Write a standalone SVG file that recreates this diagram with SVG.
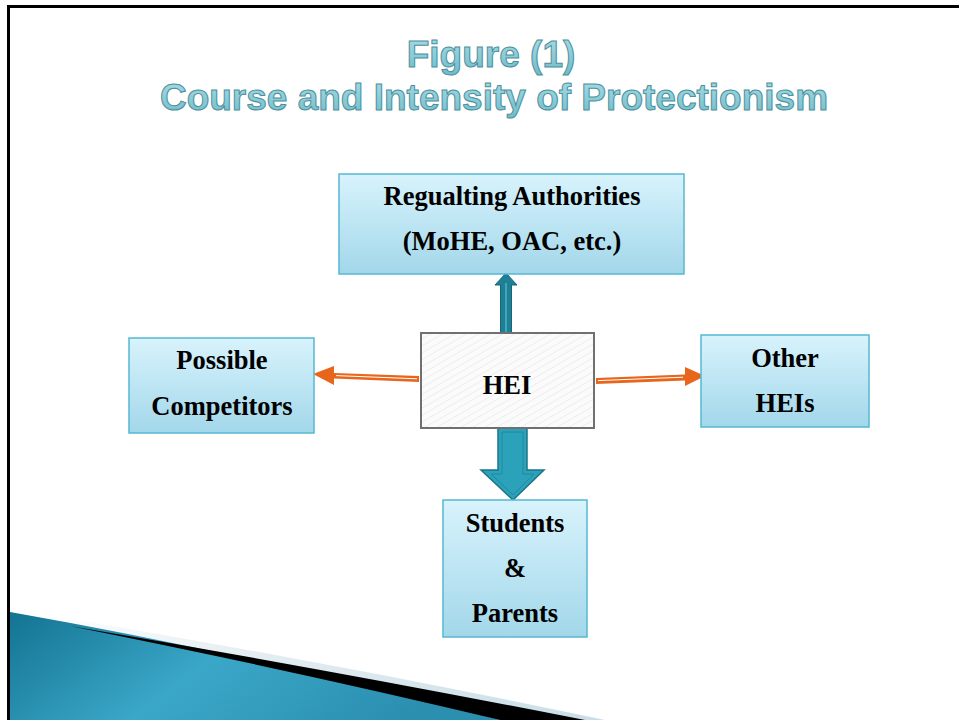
<svg xmlns="http://www.w3.org/2000/svg" width="959" height="723" viewBox="0 0 959 723">
<defs>
<linearGradient id="boxg" x1="0" y1="0" x2="0" y2="1">
<stop offset="0" stop-color="#d8f3fc"/>
<stop offset="1" stop-color="#a2d7ea"/>
</linearGradient>
<linearGradient id="blueg" x1="0" y1="0" x2="1" y2="0.3">
<stop offset="0" stop-color="#137392"/>
<stop offset="0.5" stop-color="#3ba7c8"/>
<stop offset="1" stop-color="#2b8fb0"/>
</linearGradient>
<linearGradient id="lightg" x1="0" y1="0" x2="1" y2="0">
<stop offset="0" stop-color="#ffffff"/>
<stop offset="0.4" stop-color="#e3edf2"/>
<stop offset="1" stop-color="#c9dde6"/>
</linearGradient>
<linearGradient id="titleg" x1="0" y1="0" x2="0" y2="1">
<stop offset="0" stop-color="#a9dde6"/>
<stop offset="1" stop-color="#6fbcc9"/>
</linearGradient>
<pattern id="hatch" width="6" height="6" patternUnits="userSpaceOnUse" patternTransform="rotate(60)">
<rect width="6" height="6" fill="#fbfbfb"/>
<line x1="0" y1="0" x2="0" y2="6" stroke="#eeeeee" stroke-width="2"/>
</pattern>
<style>
.box{fill:url(#boxg);stroke:#56b8d2;stroke-width:1.5}
.lbl{font-family:"Liberation Serif","Times New Roman",serif;font-weight:bold;font-size:26.5px;fill:#000;text-anchor:middle}
.title{font-family:"Liberation Sans",Arial,sans-serif;font-weight:bold;font-size:37px;fill:url(#titleg);stroke:#4d8f9c;stroke-width:1;text-anchor:middle}
.orange{fill:#e8661c}
.teal{fill:#1f7f94;stroke:#16667a;stroke-width:1}
</style>
</defs>
<rect width="959" height="723" fill="#ffffff"/>

<!-- slide frame -->
<g id="frame">
<line x1="7" y1="6.5" x2="959" y2="6.5" stroke="#000" stroke-width="3"/>
<line x1="8.5" y1="5" x2="8.5" y2="720" stroke="#000" stroke-width="3"/>
</g>

<!-- bottom-left swoosh -->
<g id="swoosh">
<path d="M40,614 Q 320,660 605,720 L 470,720 Q 250,662 30,614 Z" fill="url(#lightg)"/>
<path d="M10,612 Q 260,656 500,720 L 10,720 Z" fill="url(#blueg)"/>
<path d="M70,626 Q 320,668 585,720 L 500,720 Q 300,672 70,626 Z" fill="#000"/>
</g>

<!-- title -->
<g id="title">
<text class="title" x="491" y="67">Figure (1)</text>
<text class="title" x="494" y="110">Course and Intensity of Protectionism</text>
</g>

<!-- connectors -->
<g id="connectors">
<!-- up arrow HEI -> Regulating -->
<path class="teal" d="M500.5,336 L500.5,285 L495,285 L506,273 L517,285 L511.5,285 L511.5,336 Z"/>
<line x1="506" y1="283" x2="506" y2="333" stroke="#4fb3c8" stroke-width="1.5"/>
<!-- down arrow HEI -> Students -->
<path d="M498,428 L498,470 L481,470 L513,500 L544,470 L527,470 L527,428 Z" fill="#2ba1ba" stroke="#1b7489" stroke-width="1.5"/>
<path d="M502,432 L502,474 L491,474 L513,495 L534,474 L523,474 L523,432 Z" fill="none" stroke="#1f8aa2" stroke-width="1"/>
<!-- left orange arrow HEI -> Possible Competitors -->
<path class="orange" d="M419,376 L334,373 L334,366 L313,374 L334,385 L334,378.5 L419,382 Z"/>
<line x1="417" y1="378.8" x2="336" y2="375.6" stroke="#ffffff" stroke-width="1"/>
<!-- right orange arrow HEI -> Other HEIs -->
<path class="orange" d="M596,378 L685,374.5 L685,367 L705,376 L685,386 L685,380.5 L596,384 Z"/>
<line x1="598" y1="380.6" x2="683" y2="377.2" stroke="#ffffff" stroke-width="1"/>
</g>

<!-- nodes -->
<g id="regulating">
<rect class="box" x="339" y="174" width="345" height="100"/>
<text class="lbl" x="512" y="205">Regualting Authorities</text>
<text class="lbl" x="512" y="250">(MoHE, OAC, etc.)</text>
</g>

<g id="hei">
<rect x="421" y="333" width="173" height="95" fill="url(#hatch)" stroke="#707070" stroke-width="2"/>
<text class="lbl" x="507" y="394">HEI</text>
</g>

<g id="competitors">
<rect class="box" x="129" y="338" width="185" height="95"/>
<text class="lbl" x="222" y="369">Possible</text>
<text class="lbl" x="222" y="415">Competitors</text>
</g>

<g id="otherheis">
<rect class="box" x="701" y="335" width="168" height="92"/>
<text class="lbl" x="785" y="367">Other</text>
<text class="lbl" x="785" y="412">HEIs</text>
</g>

<g id="students">
<rect class="box" x="443" y="500" width="144" height="137"/>
<text class="lbl" x="515" y="532">Students</text>
<text class="lbl" x="515" y="577">&amp;</text>
<text class="lbl" x="515" y="622">Parents</text>
</g>
</svg>
